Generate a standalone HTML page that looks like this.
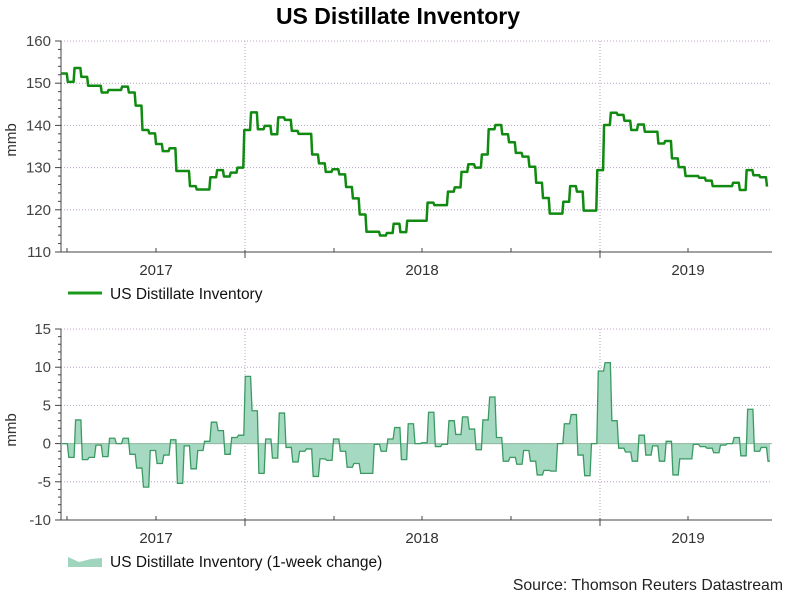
<!DOCTYPE html>
<html><head><meta charset="utf-8"><style>
body{margin:0;background:#fff;}
svg{display:block;font-family:"Liberation Sans",Arial,sans-serif;}
</style></head><body>
<svg id="c" width="791" height="604" viewBox="0 0 791 604">
<text x="398" y="24" text-anchor="middle" font-size="23" font-weight="bold" fill="#000">US Distillate Inventory</text>
<g id="top"></g>
<g id="bot"></g>
<g>
<line x1="68" y1="293" x2="102" y2="293" stroke="#1a9a1a" stroke-width="3"/>
<text x="110" y="299" font-size="15.5" fill="#111">US Distillate Inventory</text>
</g>
<g>
<polygon points="68,557 79,562 91,559 102,558 102,567 68,567" fill="#9fd5bd"/>
<text x="110" y="567" font-size="15.5" fill="#111">US Distillate Inventory (1-week change)</text>
</g>
<text x="783" y="590" text-anchor="end" font-size="15.8" fill="#222">Source: Thomson Reuters Datastream</text>
</svg>
<script>
const invValues=[152.3,150.3,153.6,151.5,149.4,149.4,147.8,148.4,148.4,149.2,147.8,144.7,138.9,138.1,135.6,133.9,134.6,129.2,129.2,125.6,124.8,124.8,127.7,129.4,127.9,128.8,130,138.9,143.1,139.1,139.9,137.9,141.9,141.3,138.7,138,138,133.1,131,129,129.6,128.4,125.4,122.7,118.9,114.8,114.8,113.9,114.5,116.7,114.7,117.4,117.4,117.4,121.7,121.1,121.1,124.3,125.3,129,130.8,130,133.1,139.1,140.1,137.9,136,133.5,132.6,130.2,126.4,122.8,119.1,119.1,121.9,125.6,124.3,119.8,119.8,129.4,140.1,143,142.5,141.1,138.9,140.2,138.5,138.5,135.7,136.3,132.2,130.1,128,128,127.6,126.9,125.6,125.6,125.6,126.4,124.7,129.4,128.2,127.7,125.5];
const chgValues=[0,-1.8,3.1,-2.1,-1.8,-0.2,-1.7,0.7,0,0.7,-1.4,-3.2,-5.7,-0.9,-2.6,-1.5,0.5,-5.2,-0.3,-3.3,-0.9,0.3,2.8,1.7,-1.4,0.8,1.1,8.8,4.3,-3.9,0.6,-1.9,4.0,-0.5,-2.4,-1,-0.7,-4.3,-2,-2.2,0.6,-1,-3.1,-2.6,-3.9,-3.9,-0.1,-1,0.6,2.1,-2.1,2.6,0,0.1,4.1,-0.4,-0.1,3.0,1.2,3.5,1.9,-0.8,3.1,6.1,0.8,-2.3,-1.8,-2.7,-0.9,-2.3,-4.1,-3.5,-3.6,0,2.6,3.8,-1.5,-4.2,0,9.5,10.6,3.0,-0.6,-1.1,-2.3,1.1,-1.5,-0.3,-2.3,0.3,-4.1,-2,-2,-0.1,-0.4,-0.6,-1.2,-0.2,0,0.8,-1.6,4.5,-1,-0.5,-2.3];
const topTicks=[110,120,130,140,150,160];
const botTicks=[-10,-5,0,5,10,15];
const yearLabels=["2017","2018","2019"];
const NS="http://www.w3.org/2000/svg";
function mk(p,t,a){const e=document.createElementNS(NS,t);for(const k in a)e.setAttribute(k,a[k]);p.appendChild(e);return e;}
const X0=61,X1=772;
const yearX=[156,422,688], tickX=[67,156,245,334,422,511,600,688], vX=[245,600];
function panel(g,top,bot,ticks,minorStep,yLabelY,yearY){
  const lo=ticks[0],hi=ticks[ticks.length-1];
  const ys=v=>bot-(v-lo)/(hi-lo)*(bot-top);
  ticks.forEach(t=>{
    if(t!==lo){const l=mk(g,'line',{x1:X0,x2:X1,y1:ys(t),y2:ys(t),stroke:'#b8a0c0','stroke-dasharray':'1,2'});
    
    }
    const tx=mk(g,'text',{x:51,y:ys(t)+5,'text-anchor':'end','font-size':15,fill:'#444'});tx.textContent=t;
    
    
  });
  for(let v=lo;v<=hi;v+=minorStep){mk(g,'line',{x1:X0-(ticks.includes(v)?6:3),x2:X0,y1:ys(v),y2:ys(v),stroke:'#444'});}
  vX.forEach(x=>{const l=mk(g,'line',{x1:x,x2:x,y1:top,y2:bot,stroke:'#b8a0c0','stroke-dasharray':'1,2'});
  
  });
  mk(g,'line',{x1:X0,x2:X0,y1:top,y2:bot,stroke:'#444'});
  mk(g,'line',{x1:X0,x2:X1,y1:bot,y2:bot,stroke:'#444'});
  tickX.forEach(x=>{const big=vX.includes(x);mk(g,'line',{x1:x,x2:x,y1:big?bot-2:bot-4,y2:big?bot+6:bot,stroke:'#444'});});
  yearLabels.forEach((s,i)=>{const t=mk(g,'text',{x:yearX[i],y:yearY,'text-anchor':'middle','font-size':15,fill:'#333'});t.textContent=s;
  
  });
  const m=mk(g,'text',{x:16,y:yLabelY,'text-anchor':'middle','font-size':15,fill:'#333',transform:`rotate(-90 16 ${yLabelY})`});m.textContent='mmb';
  
  
  return ys;
}
const gt=document.getElementById('top'),gb=document.getElementById('bot');
const ysT=panel(gt,41,252,topTicks,2,140,275);
const ysB=panel(gb,329,520,botTicks,1,430,543);
const nT=invValues.length, xT=i=>X0+i*(767-X0)/(nT-1);
let d='';invValues.forEach((v,i)=>{d+=(i?'L':'M')+xT(i)+','+ysT(v)+(i<nT-1?'L'+(xT(i+1)-1)+','+ysT(v):'');});
const pT=mk(gt,'path',{d:d,fill:'none',stroke:'#108a10','stroke-width':2.5,'stroke-linejoin':'round'});


const nB=chgValues.length, xB=i=>62+i*(768-62)/(nB-1);
let pts=[xB(0)+','+ysB(0)];let ln='';
chgValues.forEach((v,i)=>{const a=xB(i),b=i<nB-1?xB(i+1)-1.5:xB(i)+2;pts.push(a+','+ysB(v),b+','+ysB(v));ln+=(i?'L':'M')+a+','+ysB(v)+'L'+b+','+ysB(v);});
pts.push(xB(nB-1)+2+','+ysB(0));
const ar=mk(gb,'polygon',{points:pts.join(' '),fill:'#a6d9c1'});


mk(gb,'line',{x1:X0,x2:X1,y1:ysB(0),y2:ysB(0),stroke:'#8fb8a0','stroke-width':1});
const lb=mk(gb,'path',{d:ln,fill:'none',stroke:'#3a9a62','stroke-width':1.3});


</script>
</body></html>
